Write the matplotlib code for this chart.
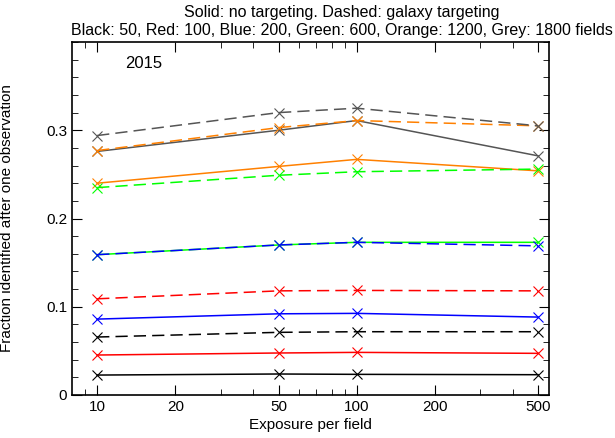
import matplotlib
matplotlib.use("Agg")
import matplotlib.pyplot as plt
from matplotlib.ticker import MultipleLocator, FixedLocator, FixedFormatter, NullFormatter

plt.rcParams['font.family'] = ['Liberation Sans', 'DejaVu Sans']

exposure = [10, 50, 100, 500]
fields = [50, 100, 200, 600, 1200, 1800]
colors = ['black', '#ff0000', '#0000ff', '#00ff00', '#ff8000', '#555555']

solid = {
    50:   [0.0226, 0.0238, 0.0234, 0.0230],
    100:  [0.0453, 0.0476, 0.0483, 0.0472],
    200:  [0.0860, 0.0920, 0.0925, 0.0883],
    600:  [0.1590, 0.1700, 0.1730, 0.1730],
    1200: [0.2400, 0.2590, 0.2670, 0.2540],
    1800: [0.2760, 0.3000, 0.3110, 0.2710],
}
dashed = {
    50:   [0.0657, 0.0710, 0.0717, 0.0717],
    100:  [0.1090, 0.1180, 0.1185, 0.1180],
    200:  [0.1590, 0.1700, 0.1730, 0.1690],
    600:  [0.2350, 0.2490, 0.2530, 0.2560],
    1200: [0.2770, 0.3030, 0.3110, 0.3050],
    1800: [0.2940, 0.3200, 0.3250, 0.3050],
}

fig = plt.figure(figsize=(6.15, 4.38), dpi=100)
ax = fig.add_axes([72/615, 43/438, 477/615, 353/438])

for f, c in zip(fields, colors):
    ax.plot(exposure, solid[f], color=c, lw=1.1, marker='x', ms=6.5, mew=0.8)
for f, c in zip(fields, colors):
    ax.plot(exposure, dashed[f], color=c, lw=1.1, ls=(0, (8, 4)), marker='x', ms=6.5, mew=0.8)

ax.set_xscale('log')
ax.set_xlim(8, 551)
ax.set_ylim(0, 0.4)
ax.xaxis.set_major_locator(FixedLocator([10, 20, 50, 100, 200, 500]))
ax.xaxis.set_minor_locator(FixedLocator([9, 30, 40, 60, 70, 80, 90, 300, 400]))
ax.xaxis.set_major_formatter(FixedFormatter(['10', '20', '50', '100', '200', '500']))
ax.xaxis.set_minor_formatter(NullFormatter())
ax.yaxis.set_major_locator(FixedLocator([0, 0.1, 0.2, 0.3]))
ax.yaxis.set_major_formatter(FixedFormatter(['0', '0.1', '0.2', '0.3']))
ax.yaxis.set_minor_locator(MultipleLocator(0.02))
ax.tick_params(which='both', direction='in', top=True, right=True, labelsize=11)
ax.tick_params(which='major', length=7)
ax.tick_params(which='minor', length=4)
for s in ax.spines.values():
    s.set_linewidth(1.2)

ax.set_xlabel('Exposure per field', fontsize=11, labelpad=3)
ax.set_ylabel('Fraction identified after one observation', fontsize=11)
ax.yaxis.set_label_coords(-0.122, 0.5)
fig.text(342/615, 1 - 12/438, 'Solid: no targeting. Dashed: galaxy targeting',
         ha='center', va='center', fontsize=11.5)
fig.text(342/615, 1 - 31/438, 'Black: 50, Red: 100, Blue: 200, Green: 600, Orange: 1200, Grey: 1800 fields',
         ha='center', va='center', fontsize=11.5)
ax.text(0.111, 0.94, '2015', transform=ax.transAxes, fontsize=12, va='center')

fig.savefig('out.png', dpi=100)
